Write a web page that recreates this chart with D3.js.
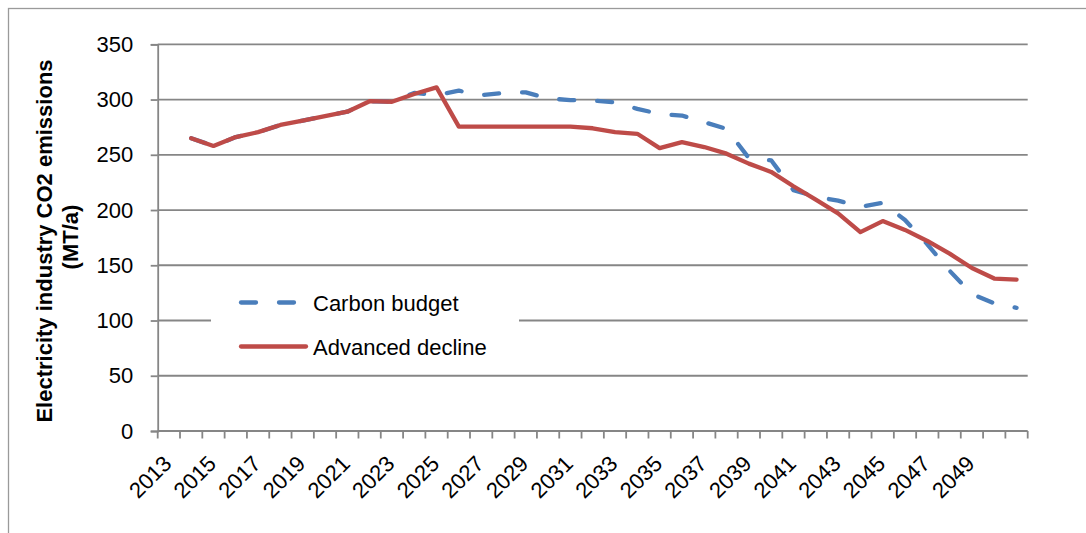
<!DOCTYPE html>
<html><head><meta charset="utf-8">
<script src="https://cdn.jsdelivr.net/npm/d3@7/dist/d3.min.js"></script>
<style>
body{margin:0;background:#fff}
svg{display:block}
text{font-family:"Liberation Sans", Arial, sans-serif;fill:#000}
</style>
</head><body>
<svg id="c" width="1086" height="533"></svg>
<script>
const categories = ["2013","2014","2015","2016","2017","2018","2019","2020","2021","2022",
  "2023","2024","2025","2026","2027","2028","2029","2030","2031","2032","2033","2034",
  "2035","2036","2037","2038","2039","2040","2041","2042","2043","2044","2045","2046",
  "2047","2048","2049","2050","2051"];
const xTickLabels = ["2013","2015","2017","2019","2021","2023","2025","2027","2029","2031",
  "2033","2035","2037","2039","2041","2043","2045","2047","2049"];
const yTickValues = [0,50,100,150,200,250,300,350];
const carbonBudget = [null,265,258,266,270.5,277,281,285,289,298.5,298,306,304,308,304,306,306.5,
  301,299.5,299,297.5,291.5,287,285.5,279.5,273.5,247,245,218,212,208.5,203,206.5,191,169,145,
  124,115.5,111.5];
const advancedDecline = [null,265,258,266,270.5,277,281,285,289,298.5,298,305,311,275.5,275.5,
  275.5,275.5,275.5,275.5,274,270.5,269,256,261.5,257,251,242,234.5,221.5,209.5,197,180,190,182,
  172,160.5,147.5,138,137];
const seriesNames = ["Carbon budget","Advanced decline"];
const yTitleLines = ["Electricity industry CO2 emissions","(MT/a)"];

const svg = d3.select("#c");
const L = 157.7, R = 1027.7, T = 44.3, B = 431;
const grey = "#868686";
const blue = "#4A7EBB", red = "#BE4B48";
const fs = 22;

const x = d3.scaleBand().domain(categories).range([L, R]).padding(0);
const bw = x.bandwidth();
const y = d3.scaleLinear().domain([0, 350]).range([B, T]);

// outer frame
svg.append("rect").attr("x",8.5).attr("y",8.5).attr("width",1200).attr("height",700)
  .attr("fill","none").attr("stroke","#9a9a9a").attr("stroke-width",1.3);

// gridlines
svg.append("g").selectAll("line").data(yTickValues.filter(v=>v>0)).join("line")
  .attr("x1",L).attr("x2",R).attr("y1",d=>y(d)).attr("y2",d=>y(d))
  .attr("stroke",grey).attr("stroke-width",1.8);

// legend background
svg.append("rect").attr("x",211).attr("y",282).attr("width",308).attr("height",82).attr("fill","#fff");

// y axis
const yAxis = svg.append("g").attr("transform",`translate(${L},0)`)
  .call(d3.axisLeft(y).tickValues(yTickValues).tickSize(7).tickPadding(17.5));
yAxis.select(".domain").attr("stroke",grey).attr("stroke-width",1.8);
yAxis.selectAll(".tick line").attr("stroke",grey).attr("stroke-width",1.8);
yAxis.selectAll(".tick text").attr("font-size",fs).attr("font-family","Liberation Sans, Arial, sans-serif").attr("fill","#000");

// x axis
const xg = svg.append("g").attr("transform",`translate(0,${B})`);
xg.append("line").attr("x1",L).attr("x2",R).attr("y1",0).attr("y2",0).attr("stroke",grey).attr("stroke-width",1.8);
xg.selectAll("line.tk").data(categories.concat(["__end"])).join("line").attr("class","tk")
  .attr("x1",d=>d==="__end"?R:x(d)).attr("x2",d=>d==="__end"?R:x(d))
  .attr("y1",0).attr("y2",7.5).attr("stroke",grey).attr("stroke-width",1.8);
const xAxis = xg.append("g").call(d3.axisBottom(x).tickValues(xTickLabels).tickSize(0));
xAxis.select(".domain").remove();
xAxis.selectAll(".tick text").attr("font-size",fs).attr("font-family","Liberation Sans, Arial, sans-serif")
  .attr("fill","#000").attr("y",0).attr("dy",null).attr("text-anchor","end")
  .attr("transform","translate(4,34) rotate(-45)");

// y title
const yt = svg.append("g").attr("transform","translate(0,241) rotate(-90)");
yt.append("text").attr("x",0).attr("y",52).attr("text-anchor","middle").attr("font-weight","bold")
  .attr("font-size",fs).text(yTitleLines[0]);
yt.append("text").attr("x",4).attr("y",78).attr("text-anchor","middle").attr("font-weight","bold")
  .attr("font-size",fs).text(yTitleLines[1]);

// lines
const line = d3.line().defined(d=>d!=null)
  .x((d,i)=>x(categories[i])+bw/2).y(d=>y(d));
svg.append("path").datum(carbonBudget).attr("d",line).attr("fill","none")
  .attr("stroke",blue).attr("stroke-width",4.3).attr("stroke-dasharray","15,23")
  .attr("stroke-linecap","round").attr("stroke-linejoin","round");
svg.append("path").datum(advancedDecline).attr("d",line).attr("fill","none")
  .attr("stroke",red).attr("stroke-width",4.3)
  .attr("stroke-linecap","round").attr("stroke-linejoin","round");

// legend
const lg = svg.append("g");
const legendItems = [{name:seriesNames[0],color:blue,dash:"15,23",yy:302.5},{name:seriesNames[1],color:red,dash:null,yy:346.5}];
legendItems.forEach(it=>{
  lg.append("line").attr("x1",241).attr("x2",306).attr("y1",it.yy).attr("y2",it.yy)
    .attr("stroke",it.color).attr("stroke-width",4.3).attr("stroke-linecap","round")
    .attr("stroke-dasharray",it.dash);
  lg.append("text").attr("x",313).attr("y",it.yy+8).attr("font-size",fs).text(it.name);
});
</script>
</body></html>
